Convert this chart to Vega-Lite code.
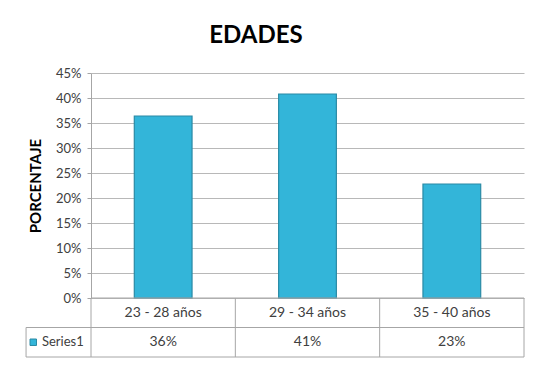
{
  "$schema": "https://vega.github.io/schema/vega-lite/v6.json",
  "background": "white",
  "padding": {"left": 25, "top": 24, "right": 5, "bottom": 5},
  "bounds": "flush",
  "title": {"text": "EDADES", "fontSize": 24, "font": "Lato", "fontWeight": "bold", "color": "#000000", "anchor": "middle", "frame": "bounds", "offset": 19, "dx": -19},
  "data": {"values": [
    {"edad": "23 - 28 años", "pct": 0.364},
    {"edad": "29 - 34 años", "pct": 0.408},
    {"edad": "35 - 40 años", "pct": 0.228}
  ]},
  "spacing": 0,
  "vconcat": [
    {
      "width": 433,
      "height": 225,
      "mark": {"type": "bar", "color": "#33B5D9", "stroke": "#2A8AA5", "strokeWidth": 1.2},
      "encoding": {
        "x": {"field": "edad", "type": "nominal", "sort": null, "axis": null, "scale": {"paddingInner": 0.6, "paddingOuter": 0.3}},
        "y": {
          "field": "pct", "type": "quantitative",
          "scale": {"domain": [0, 0.45], "nice": false},
          "axis": {
            "values": [0, 0.05, 0.1, 0.15, 0.2, 0.25, 0.3, 0.35, 0.4, 0.45],
            "format": ".0%",
            "title": "PORCENTAJE",
            "titleFont": "Lato", "titleFontSize": 15, "titleFontWeight": "bold", "titleColor": "#000000", "titlePadding": 12,
            "labelFont": "Lato", "labelFontSize": 13, "labelColor": "#404040", "labelPadding": 6,
            "tickSize": 4, "tickColor": "#A6A6A6",
            "domainColor": "#A6A6A6",
            "gridColor": "#B8B8B8"
          }
        }
      }
    },
    {
      "width": 433,
      "height": 59,
      "resolve": {"scale": {"x": "independent"}},
      "encoding": {
        "y": {"datum": 0, "type": "quantitative", "scale": {"domain": [0, 2], "nice": false}, "axis": null}
      },
      "layer": [
        {
          "mark": {"type": "text", "font": "Lato", "fontSize": 14, "color": "#404040"},
          "encoding": {
            "x": {"field": "edad", "type": "nominal", "sort": null, "axis": null},
            "y": {"datum": 1.5, "type": "quantitative"},
            "text": {"field": "edad"}
          }
        },
        {
          "mark": {"type": "text", "font": "Lato", "fontSize": 14, "color": "#404040"},
          "encoding": {
            "x": {"field": "edad", "type": "nominal", "sort": null, "axis": null},
            "y": {"datum": 0.5, "type": "quantitative"},
            "text": {"field": "pct", "format": ".0%"}
          }
        },
        {
          "data": {"values": [{}]},
          "encoding": {
            "x": {"datum": 0, "type": "quantitative", "scale": {"domain": [0, 3], "nice": false, "zero": false}, "axis": null}
          },
          "layer": [
            {"mark": {"type": "rule", "color": "#A6A6A6"}, "encoding": {"x": {"datum": 0, "type": "quantitative"}, "x2": {"datum": 3}, "y": {"datum": 2, "type": "quantitative"}}},
            {"mark": {"type": "rule", "color": "#A6A6A6"}, "encoding": {"x": {"datum": -0.45, "type": "quantitative"}, "x2": {"datum": 3}, "y": {"datum": 1, "type": "quantitative"}}},
            {"mark": {"type": "rule", "color": "#A6A6A6"}, "encoding": {"x": {"datum": -0.45, "type": "quantitative"}, "x2": {"datum": 3}, "y": {"datum": 0, "type": "quantitative"}}},
            {"mark": {"type": "rule", "color": "#A6A6A6"}, "encoding": {"x": {"datum": -0.45, "type": "quantitative"}, "y": {"datum": 0, "type": "quantitative"}, "y2": {"datum": 1}}},
            {"mark": {"type": "rule", "color": "#A6A6A6"}, "encoding": {"x": {"datum": 0, "type": "quantitative"}, "y": {"datum": 0, "type": "quantitative"}, "y2": {"datum": 2}}},
            {"mark": {"type": "rule", "color": "#A6A6A6"}, "encoding": {"x": {"datum": 1, "type": "quantitative"}, "y": {"datum": 0, "type": "quantitative"}, "y2": {"datum": 2}}},
            {"mark": {"type": "rule", "color": "#A6A6A6"}, "encoding": {"x": {"datum": 2, "type": "quantitative"}, "y": {"datum": 0, "type": "quantitative"}, "y2": {"datum": 2}}},
            {"mark": {"type": "rule", "color": "#A6A6A6"}, "encoding": {"x": {"datum": 3, "type": "quantitative"}, "y": {"datum": 0, "type": "quantitative"}, "y2": {"datum": 2}}},
            {"mark": {"type": "point", "shape": "square", "filled": true, "size": 42, "color": "#33B5D9", "stroke": "#2A8AA5", "strokeWidth": 1, "opacity": 1}, "encoding": {"x": {"datum": -0.4, "type": "quantitative"}, "y": {"datum": 0.5, "type": "quantitative"}}},
            {"mark": {"type": "text", "font": "Lato", "fontSize": 13, "color": "#404040", "align": "left"}, "encoding": {"x": {"datum": -0.34, "type": "quantitative"}, "y": {"datum": 0.5, "type": "quantitative"}, "text": {"value": "Series1"}}}
          ]
        }
      ]
    }
  ],
  "config": {"view": {"stroke": null}}
}
